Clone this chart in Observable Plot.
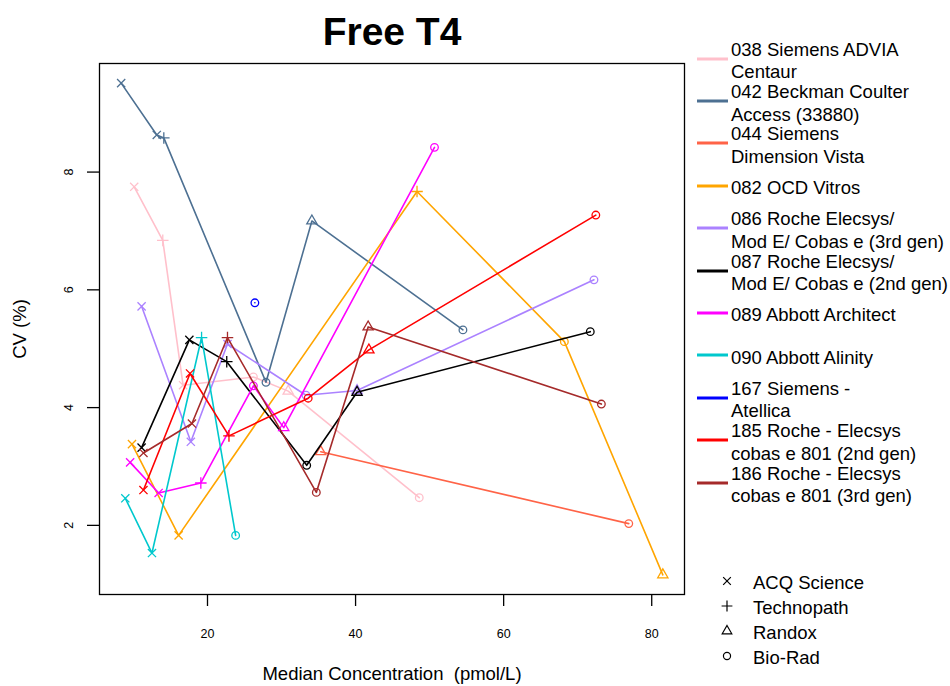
<!DOCTYPE html>
<html><head><meta charset="utf-8">
<script src="https://cdn.jsdelivr.net/npm/d3@7"></script>
<script src="https://cdn.jsdelivr.net/npm/@observablehq/plot@0.6"></script>
<style>
body{margin:0;background:#fff;font-family:"Liberation Sans",Arial,sans-serif;}
#wrap{position:relative;width:950px;height:686px;overflow:hidden;}
#legend{position:absolute;left:697px;top:40px;}
.entry{height:42.4px;display:flex;align-items:center;}
.entry svg{flex:none;margin-right:3px;margin-top:-5px;}
.entry span{font-size:18.5px;line-height:22.5px;white-space:pre-line;color:#000;}
#shapes{position:absolute;left:716px;top:568px;}
.srow{height:25px;display:flex;align-items:center;}
.srow svg{flex:none;margin-right:15px;}
.srow span{font-size:18.5px;color:#000;margin-top:4px;}
</style></head>
<body>
<div id="wrap"><div id="legend"></div><div id="shapes"></div></div>
<script>
// ---- categories / scales ----
const providers = ["ACQ Science", "Technopath", "Randox", "Bio-Rad"];
const providerSymbols = ["times", "plus", "triangle", "circle"];
const instruments = [
  "038 Siemens ADVIA\nCentaur",
  "042 Beckman Coulter\nAccess (33880)",
  "044 Siemens\nDimension Vista",
  "082 OCD Vitros",
  "086 Roche Elecsys/\nMod E/ Cobas e (3rd gen)",
  "087 Roche Elecsys/\nMod E/ Cobas e (2nd gen)",
  "089 Abbott Architect",
  "090 Abbott Alinity",
  "167 Siemens -\nAtellica",
  "185 Roche - Elecsys\ncobas e 801 (2nd gen)",
  "186 Roche - Elecsys\ncobas e 801 (3rd gen)"
];
const instrumentColors = ["#FFC0CB", "#4D7092", "#FF6347", "#FFA500", "#AB82FF", "#000000",
  "#FF00FF", "#00C8CD", "#0000FF", "#FF0000", "#A52A2A"];
const xTicks = [20, 40, 60, 80];
const yTicks = [2, 4, 6, 8];

// ---- series values: median concentration (pmol/L), CV (%), EQA provider ----
const conc038 = [10.1, 13.96, 16.7, 26.2, 30.9, 48.6];
const cv038   = [7.75, 6.84, 4.38, 4.52, 4.28, 2.47];
const src038  = ["ACQ Science", "Technopath", "ACQ Science", "Bio-Rad", "Randox", "Bio-Rad"];

const conc042 = [8.34, 13.15, 14.1, 27.9, 34.1, 54.5];
const cv042   = [9.51, 8.63, 8.58, 4.43, 7.17, 5.32];
const src042  = ["ACQ Science", "ACQ Science", "Technopath", "Bio-Rad", "Randox", "Bio-Rad"];

const conc044 = [35.3, 76.9];
const cv044   = [3.25, 2.03];
const src044  = ["Randox", "Bio-Rad"];

const conc082 = [9.8, 16.1, 48.3, 68.2, 81.5];
const cv082   = [3.38, 1.83, 7.67, 5.12, 1.16];
const src082  = ["ACQ Science", "ACQ Science", "Technopath", "Bio-Rad", "Randox"];

const conc086 = [11.1, 17.75, 22.7, 33.3, 40.2, 72.2];
const cv086   = [5.72, 3.42, 5.08, 4.21, 4.29, 6.17];
const src086  = ["ACQ Science", "ACQ Science", "ACQ Science", "Bio-Rad", "Randox", "Bio-Rad"];

const conc087 = [11.1, 17.55, 22.6, 33.4, 40.2, 71.7];
const cv087   = [3.32, 5.15, 4.78, 3.02, 4.26, 5.29];
const src087  = ["ACQ Science", "ACQ Science", "Technopath", "Bio-Rad", "Randox", "Bio-Rad"];

const conc089 = [9.55, 13.4, 19.1, 26.2, 30.3, 50.66];
const cv089   = [3.07, 2.55, 2.72, 4.37, 3.66, 8.42];
const src089  = ["ACQ Science", "ACQ Science", "Technopath", "Bio-Rad", "Randox", "Bio-Rad"];

const conc090 = [8.9, 12.5, 19.2, 23.8];
const cv090   = [2.46, 1.53, 5.19, 1.83];
const src090  = ["ACQ Science", "ACQ Science", "Technopath", "Bio-Rad"];

const conc167 = [26.4];
const cv167   = [5.78];
const src167  = ["Bio-Rad"];

const conc185 = [11.35, 17.64, 22.9, 33.6, 41.8, 72.45];
const cv185   = [2.6, 4.58, 3.52, 4.16, 4.98, 7.27];
const src185  = ["ACQ Science", "ACQ Science", "Technopath", "Bio-Rad", "Randox", "Bio-Rad"];

const conc186 = [11.35, 17.9, 22.7, 34.7, 41.7, 73.2];
const cv186   = [3.23, 3.73, 5.19, 2.56, 5.37, 4.06];
const src186  = ["ACQ Science", "ACQ Science", "Technopath", "Bio-Rad", "Randox", "Bio-Rad"];

// ---- build table ----
const seriesList = [
  [conc038, cv038, src038], [conc042, cv042, src042], [conc044, cv044, src044],
  [conc082, cv082, src082], [conc086, cv086, src086], [conc087, cv087, src087],
  [conc089, cv089, src089], [conc090, cv090, src090], [conc167, cv167, src167],
  [conc185, cv185, src185], [conc186, cv186, src186]
];
const rows = seriesList.flatMap(([c, v, s], i) =>
  c.map((x, j) => ({instrument: instruments[i], conc: x, cv: v[j], provider: s[j]})));

// R-style 4% padded domains
function pad(ext) { const d = (ext[1] - ext[0]) * 0.04; return [ext[0] - d, ext[1] + d]; }
const xDomain = pad(d3.extent(rows, d => d.conc));
const yDomain = pad(d3.extent(rows, d => d.cv));

const seriesMarks = instruments.flatMap(name => {
  const d = rows.filter(r => r.instrument === name);
  return [
    Plot.line(d, {x: "conc", y: "cv", stroke: "instrument", strokeWidth: 1.6}),
    Plot.dot(d, {x: "conc", y: "cv", stroke: "instrument", symbol: "provider", r: 3.8, fill: "none", strokeWidth: 1.3})
  ];
});

const chart = Plot.plot({
  width: 950, height: 686,
  marginLeft: 99, marginRight: 266, marginTop: 63, marginBottom: 92,
  style: {fontFamily: '"Liberation Sans", Arial, sans-serif', fontSize: "12.5px", background: "white", color: "black"},
  x: {domain: xDomain},
  y: {domain: yDomain},
  color: {domain: instruments, range: instrumentColors},
  symbol: {domain: providers, range: providerSymbols},
  marks: [
    ...seriesMarks,
    Plot.frame({stroke: "black", strokeWidth: 1.3}),
    Plot.axisX({ticks: xTicks, tickSize: 12, tickPadding: 23, fontSize: 12.5, label: null, strokeWidth: 1.3}),
    Plot.axisY({ticks: yTicks, tickSize: 12, tickFormat: () => "", label: null, strokeWidth: 1.3}),
    Plot.text(yTicks, {y: d => d, text: d => String(d), frameAnchor: "left", dx: -31, rotate: -90, textAnchor: "middle", lineAnchor: "middle", fontSize: 12.5, fill: "black"}),
    Plot.text(["Median Concentration  (pmol/L)"], {frameAnchor: "bottom", dy: 80, textAnchor: "middle", lineAnchor: "middle", fontSize: 18.5, fill: "black"}),
    Plot.text(["CV (%)"], {frameAnchor: "left", dx: -79, rotate: -90, textAnchor: "middle", lineAnchor: "middle", fontSize: 18.5, fill: "black"}),
    Plot.text(["Free T4"], {frameAnchor: "top", dy: -31, textAnchor: "middle", lineAnchor: "middle", fontSize: 39, fontWeight: "bold", fill: "black"})
  ]
});
const wrap = document.getElementById("wrap");
chart.style.position = "absolute";
chart.style.left = "0px";
chart.style.top = "0px";
wrap.insertBefore(chart, wrap.firstChild);

// ---- legends ----
const legend = document.getElementById("legend");
instruments.forEach((name, i) => {
  const e = document.createElement("div");
  e.className = "entry";
  e.innerHTML = `<svg width="31" height="6"><line x1="0" x2="31" y1="3" y2="3" stroke="${instrumentColors[i]}" stroke-width="3.2" stroke-linecap="round"/></svg>`;
  const s = document.createElement("span");
  s.textContent = name;
  e.appendChild(s);
  legend.appendChild(e);
});
const shapes = document.getElementById("shapes");
const symMap = {times: d3.symbolTimes, plus: d3.symbolPlus, triangle: d3.symbolTriangle, circle: d3.symbolCircle};
providers.forEach((p, i) => {
  const e = document.createElement("div");
  e.className = "srow";
  const path = d3.symbol(symMap[providerSymbols[i]], 40)();
  e.innerHTML = `<svg width="22" height="22"><path transform="translate(11,11)" d="${path}" fill="none" stroke="black" stroke-width="1.2"/></svg>`;
  const s = document.createElement("span");
  s.textContent = p;
  e.appendChild(s);
  shapes.appendChild(e);
});
</script>
</body></html>
